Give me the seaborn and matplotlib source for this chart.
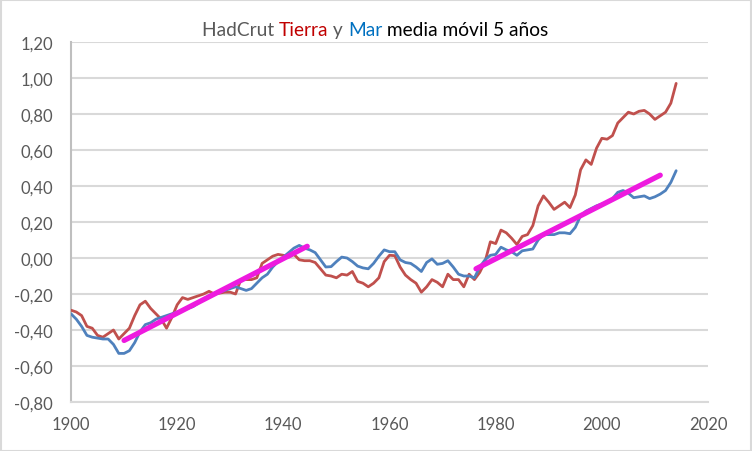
import matplotlib
matplotlib.use("Agg")
import matplotlib.pyplot as plt
import seaborn as sns
import pandas as pd
import numpy as np
from matplotlib.patches import Rectangle

years = list(range(1900, 2015))

tierra = [
    -0.29, -0.30, -0.32, -0.38, -0.39, -0.43, -0.44, -0.42, -0.40, -0.45,
    -0.42, -0.39, -0.32, -0.26, -0.24, -0.28, -0.31, -0.34, -0.39, -0.33,
    -0.26, -0.22, -0.23, -0.22, -0.21, -0.20, -0.185, -0.20, -0.195, -0.19,
    -0.19, -0.20, -0.12, -0.12, -0.12, -0.11, -0.03, -0.01, 0.01, 0.02,
    0.015, 0.005, 0.02, -0.01, -0.015, -0.015, -0.025, -0.06, -0.095, -0.10,
    -0.11, -0.09, -0.095, -0.075, -0.13, -0.14, -0.16, -0.14, -0.11, -0.02,
    0.015, 0.013, -0.05, -0.095, -0.12, -0.14, -0.19, -0.16, -0.12, -0.135,
    -0.16, -0.09, -0.12, -0.12, -0.16, -0.09, -0.12, -0.08, -0.02, 0.09,
    0.08, 0.155, 0.14, 0.11, 0.075, 0.12, 0.13, 0.18, 0.29, 0.345,
    0.31, 0.27, 0.29, 0.31, 0.28, 0.35, 0.49, 0.545, 0.52, 0.61,
    0.665, 0.66, 0.68, 0.75, 0.78, 0.81, 0.80, 0.815, 0.82, 0.80,
    0.77, 0.79, 0.81, 0.86, 0.97,
]

mar = [
    -0.31, -0.34, -0.38, -0.43, -0.44, -0.445, -0.45, -0.45, -0.48, -0.53,
    -0.53, -0.515, -0.47, -0.41, -0.37, -0.36, -0.34, -0.33, -0.32, -0.31,
    -0.30, -0.29, -0.28, -0.27, -0.25, -0.23, -0.21, -0.20, -0.19, -0.18,
    -0.17, -0.16, -0.17, -0.18, -0.17, -0.14, -0.11, -0.09, -0.05, -0.02,
    0.005, 0.03, 0.055, 0.07, 0.055, 0.045, 0.03, -0.01, -0.05, -0.048,
    -0.02, 0.005, 0.0, -0.02, -0.045, -0.055, -0.06, -0.03, 0.01, 0.045,
    0.035, 0.035, -0.01, -0.025, -0.03, -0.05, -0.075, -0.025, -0.005, -0.035,
    -0.03, -0.015, -0.05, -0.09, -0.10, -0.10, -0.11, -0.05, -0.01, 0.015,
    0.02, 0.06, 0.045, 0.035, 0.015, 0.04, 0.045, 0.05, 0.10, 0.13,
    0.13, 0.13, 0.14, 0.14, 0.135, 0.17, 0.235, 0.26, 0.275, 0.29,
    0.30, 0.31, 0.33, 0.365, 0.375, 0.36, 0.335, 0.34, 0.345, 0.33,
    0.34, 0.355, 0.375, 0.42, 0.485,
]

trend1_years = [1910, 1944.5]
trend1_vals = [-0.458, 0.065]
trend2_years = [1976.3, 2011]
trend2_vals = [-0.06, 0.46]

y_ticks = [-0.80, -0.60, -0.40, -0.20, 0.00, 0.20, 0.40, 0.60, 0.80, 1.00, 1.20]
x_ticks = [1900, 1920, 1940, 1960, 1980, 2000, 2020]

sns.set_theme(style="white")
plt.rcParams['font.family'] = ['Lato', 'DejaVu Sans']

fig = plt.figure(figsize=(7.52, 4.52), dpi=100)
ax = fig.add_axes([71/752, 49/452, 637/752, 360/452])

df = pd.DataFrame({"year": years, "tierra": tierra, "mar": mar})
t1 = pd.DataFrame({"year": trend1_years, "v": trend1_vals})
t2 = pd.DataFrame({"year": trend2_years, "v": trend2_vals})

sns.lineplot(data=df, x="year", y="tierra", ax=ax, color="#C0504D", linewidth=2.0, zorder=3)
sns.lineplot(data=df, x="year", y="mar", ax=ax, color="#4F81BD", linewidth=2.0, zorder=4)
sns.lineplot(data=t1, x="year", y="v", ax=ax, color="#EE1ADF", linewidth=3.8, zorder=5, solid_capstyle="round")
sns.lineplot(data=t2, x="year", y="v", ax=ax, color="#EE1ADF", linewidth=3.8, zorder=5, solid_capstyle="round")

ax.set_xlim(1900, 2020)
ax.set_ylim(-0.80, 1.20)
ax.set_xticks(x_ticks)
ax.set_yticks(y_ticks)
ax.set_yticklabels([f"{v:.2f}".replace(".", ",") for v in y_ticks])
ax.set_xticklabels([str(v) for v in x_ticks])
ax.tick_params(axis="both", colors="#595959", labelsize=12, length=0)
ax.tick_params(axis="y", pad=13)
ax.tick_params(axis="x", pad=10)
ax.set_xlabel("")
ax.set_ylabel("")
ax.grid(axis="y", color="#D9D9D9", linewidth=1.5)
ax.set_axisbelow(True)
for s in ["top", "right"]:
    ax.spines[s].set_visible(False)
ax.spines["left"].set_color("#BFBFBF")
ax.spines["left"].set_linewidth(1.5)
ax.spines["bottom"].set_color("#D9D9D9")
ax.spines["bottom"].set_linewidth(1.5)

# multi-coloured title
parts = [("HadCrut ", "#595959"), ("Tierra", "#C00000"), (" y ", "#595959"),
         ("Mar", "#0070C0"), (" media móvil 5 años", "#000000")]
fig.canvas.draw()
renderer = fig.canvas.get_renderer()
texts = []
for s, c in parts:
    t = fig.text(0, 0, s, color=c, fontsize=13.8, ha="left", va="baseline")
    texts.append(t)
widths = [t.get_window_extent(renderer).width for t in texts]
w_total = sum(widths)
xpos = 375 - w_total / 2
for t, w in zip(texts, widths):
    t.set_position((xpos / 752, (452 - 36) / 452))
    xpos += w

fig.patches.append(Rectangle((0.5/752, 0.5/452), 1 - 1.5/752, 1 - 1.5/452,
                             transform=fig.transFigure, fill=False,
                             edgecolor="#D9D9D9", linewidth=1.5))

fig.savefig("out.png", dpi=100)
